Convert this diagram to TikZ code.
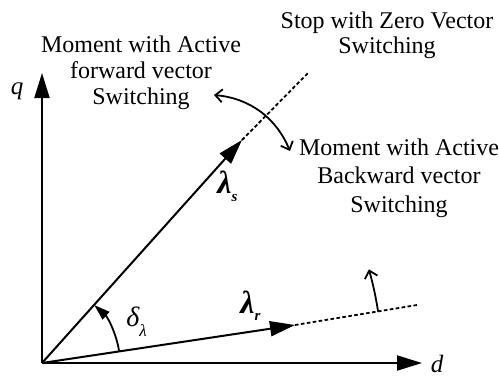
\documentclass[tikz,border=0pt]{standalone}
\usepackage{fontspec}
\setmainfont{Liberation Serif}
\usetikzlibrary{arrows.meta}
\begin{document}
\begin{tikzpicture}[x=0.5pt,y=-0.5pt,
  vec/.style={line width=1pt,-{Triangle[length=12.5pt,width=7.5pt]}},
  ext/.style={line width=0.9pt,dash pattern=on 1.8pt off 1.2pt},
  rot/.style={line width=0.9pt,{Straight Barb[length=3.5pt,width=6.5pt]}-{Straight Barb[length=3.5pt,width=6.5pt]}},
  rotone/.style={line width=0.9pt,-{Straight Barb[length=3.5pt,width=6.5pt]}},
  angarr/.style={line width=0.9pt,-{Triangle[length=8pt,width=5pt]}},
  lbl/.style={inner sep=0pt,align=center},
  sym/.style={inner sep=0pt,anchor=base west},
]
\useasboundingbox (0,0) rectangle (499,377);
% points
\coordinate (O) at (42,363);
\coordinate (Q) at (42,73);
\coordinate (D) at (422,363);
\coordinate (S) at (242,140);
\coordinate (Sd) at (308,73);
\coordinate (R) at (295,325);
\coordinate (Rd) at (417,305);
\coordinate (a1) at (119.1,351.2);
\coordinate (b1) at (378.1,311.6);
\coordinate (c1) at (214,95);
\coordinate (c2) at (290,151);
% axes and vectors
\draw[vec] (O) -- (Q);
\draw[vec] (O) -- (D);
\draw[vec] (O) -- (S);
\draw[vec] (O) -- (R);
\draw[ext] (S) -- (Sd);
\draw[ext] (R) -- (Rd);
% rotations
\draw[angarr] (a1) arc[start angle=-8.7, end angle=-48, radius=78];
\draw[rotone] (b1) arc[start angle=-8.7, end angle=-16, radius=340];
\draw[rot] (c1) .. controls (250,98.3) and (276.1,117.8) .. (c2);
% labels
\node[inner sep=0pt,anchor=base,font=\fontsize{12.5}{12.5}\selectfont\itshape] (q) at (17,94) {q};
\node[inner sep=0pt,anchor=base,font=\fontsize{12.5}{12.5}\selectfont\itshape] (d) at (437,372) {d};
\node[sym] (ls) at (217,193) {\fontsize{16}{16}\selectfont\bfseries\itshape λ\raisebox{-4pt}{\fontsize{7.5}{7.5}\selectfont s}};
\node[sym] (lr) at (240,313) {\fontsize{16}{16}\selectfont\bfseries\itshape λ\raisebox{-3.5pt}{\fontsize{7.5}{7.5}\selectfont r}};
\node[sym] (dl) at (126,326) {\fontsize{14}{14}\selectfont\itshape δ\raisebox{-5pt}{\fontsize{8.5}{8.5}\selectfont λ}};
\node[lbl,anchor=north,font=\fontsize{12}{12.85}\selectfont] (t1) at (141,35.6) {Moment with Active\\forward vector\\Switching};
\node[lbl,anchor=north,font=\fontsize{12}{12.5}\selectfont] (t2) at (387,11.6) {Stop with Zero Vector\\Switching};
\node[lbl,anchor=north,font=\fontsize{12}{14.15}\selectfont] (t3) at (399,138.6) {Moment with Active\\Backward vector\\Switching};
\end{tikzpicture}
\end{document}
